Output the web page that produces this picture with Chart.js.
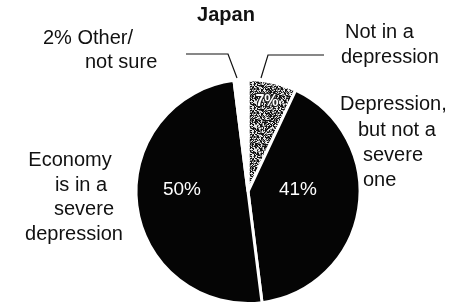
<!DOCTYPE html>
<html>
<head>
<meta charset="utf-8">
<script src="https://cdn.jsdelivr.net/npm/chart.js@4/dist/chart.umd.min.js"></script>
<style>
    body { margin: 0; background: #fff; }
    #wrap { width: 469px; height: 308px; }
</style>
</head>
<body>
<div id="wrap"><canvas id="myChart" width="469" height="308"></canvas></div>
<script>
// dane (kolejnosc od gory, zgodnie z ruchem wskazowek)
let tytul = 'Japan';
let kategorie = ['Not in a depression', 'Depression, but not a severe one', 'Economy is in a severe depression', 'Other/not sure'];
let wartosci = [7, 41, 50, 2];

// opisy obok kola - linie tekstu
let opis_not_in = ['Not in a', 'depression'];
let opis_not_severe = ['Depression,', 'but not a', 'severe', 'one'];
let opis_severe = ['Economy', 'is in a', 'severe', 'depression'];
let opis_other = ['Other/', 'not sure'];

// wzor kropkowany (szum) dla 7% - staly hash, bez losowania
function make_stipple() {
    let n = 24;
    let c = document.createElement('canvas');
    c.width = n;
    c.height = n;
    let g = c.getContext('2d');
    for (let y = 0; y < n; y++) {
        for (let x = 0; x < n; x++) {
            let h = ((x * 374761393) ^ (y * 668265263)) >>> 0;
            h = ((h ^ (h >>> 13)) * 1274126177) >>> 0;
            let v = h % 100;
            if (v < 42) g.fillStyle = '#111';
            else if (v < 70) g.fillStyle = '#777';
            else g.fillStyle = '#e8e8e8';
            g.fillRect(x, y, 1, 1);
        }
    }
    return g.createPattern(c, 'repeat');
}

let font_opis = '20px "Liberation Sans", Arial, sans-serif';

function draw_lines(ctx, lines, pos) {
    lines.forEach((txt, i) => {
        ctx.fillText(txt, pos[i][0], pos[i][1]);
    });
}

const opisy_plugin = {
    id: 'opisy',
    afterDraw(chart) {
        let ctx = chart.ctx;
        ctx.save();
        ctx.fillStyle = '#111';
        ctx.textBaseline = 'alphabetic';

        // tytul
        ctx.font = 'bold 20px "Liberation Sans", Arial, sans-serif';
        ctx.textAlign = 'center';
        ctx.fillText(tytul, 226, 21);

        ctx.font = font_opis;
        ctx.textAlign = 'left';
        draw_lines(ctx, [wartosci[3] + '% ' + opis_other[0], opis_other[1]], [[43, 44], [85, 68]]);
        draw_lines(ctx, opis_not_in, [[345, 38], [341, 63]]);
        draw_lines(ctx, opis_not_severe, [[340, 110], [358, 136], [363, 161], [363, 186]]);
        ctx.textAlign = 'center';
        draw_lines(ctx, opis_severe, [[70, 166], [81, 191], [84, 215], [74, 240]]);

        // linie odnosnikow
        ctx.strokeStyle = '#111';
        ctx.lineWidth = 1.2;
        ctx.beginPath();
        ctx.moveTo(186, 54);
        ctx.lineTo(228, 54);
        ctx.lineTo(237, 78);
        ctx.moveTo(324, 55);
        ctx.lineTo(268, 55);
        ctx.lineTo(261, 78);
        ctx.stroke();

        // procenty wewnatrz kola
        ctx.fillStyle = '#fff';
        ctx.textAlign = 'center';
        ctx.font = '19px "Liberation Sans", Arial, sans-serif';
        ctx.fillText(wartosci[2] + '%', 182, 195);
        ctx.fillText(wartosci[1] + '%', 298, 195);
        ctx.font = 'bold 16px "Liberation Sans", Arial, sans-serif';
        ctx.strokeStyle = '#222';
        ctx.lineWidth = 2;
        ctx.strokeText(wartosci[0] + '%', 267, 106);
        ctx.fillText(wartosci[0] + '%', 267, 106);
        ctx.restore();
    }
};

let ctx = document.getElementById('myChart').getContext('2d');
let wykres = new Chart(ctx, {
    type: 'pie',
    data: {
        labels: kategorie,
        datasets: [{
            data: wartosci,
            backgroundColor: [make_stipple(), '#050505', '#050505', '#ffffff'],
            borderColor: '#ffffff',
            borderWidth: 3
        }]
    },
    options: {
        responsive: false,
        animation: false,
        rotation: 0,
        layout: { padding: { left: 134, right: 107, top: 78, bottom: 3 } },
        plugins: {
            legend: { display: false },
            tooltip: { enabled: false }
        }
    },
    plugins: [opisy_plugin]
});
</script>
</body>
</html>
